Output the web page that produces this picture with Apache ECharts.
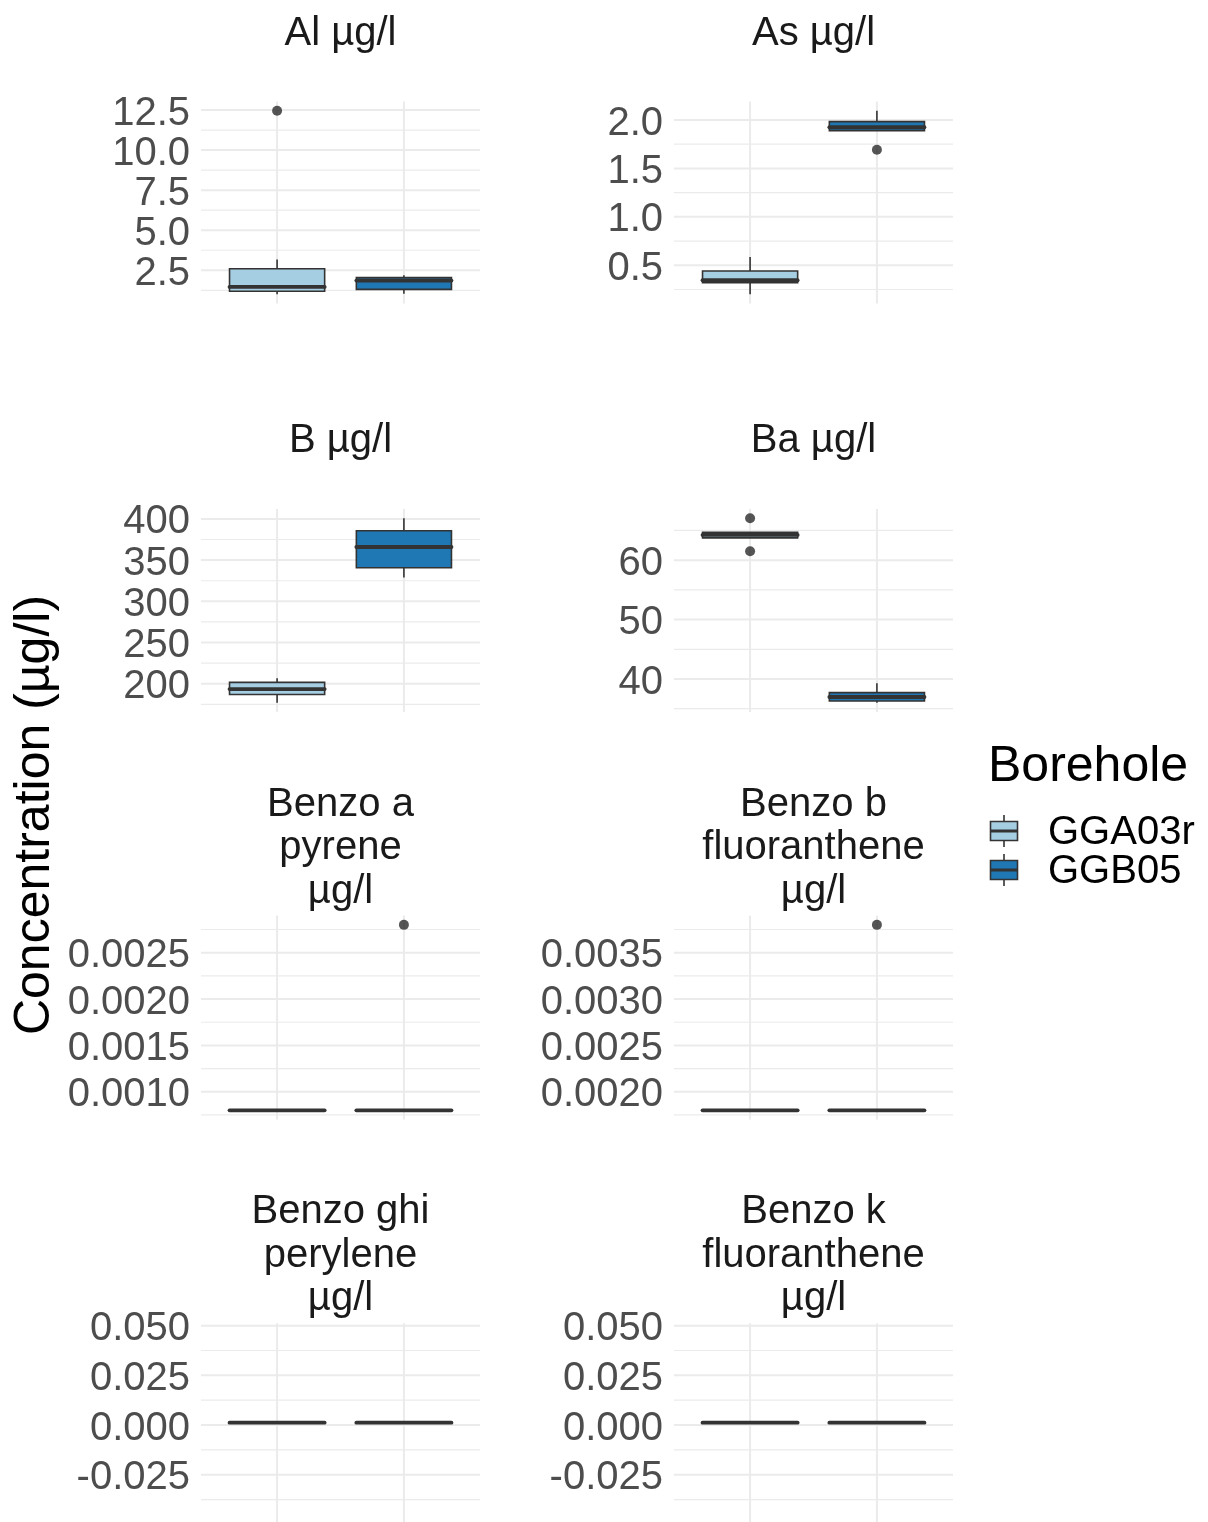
<!DOCTYPE html>
<html><head><meta charset="utf-8">
<script src="https://cdn.jsdelivr.net/npm/echarts@6/dist/echarts.min.js"></script>
<style>html,body{margin:0;padding:0;background:#fff}#c{width:1208px;height:1522px}</style>
</head><body><div id="c"></div>
<script>
// ---------- DATA ----------
const boreholes = ['GGA03r', 'GGB05'];
const boreholeColors = ['#a6cee3', '#1f78b4'];

// box stats per borehole: [lowerWhisker, Q1, median, Q3, upperWhisker]
const alStats   = [[1.0, 1.19, 1.46, 2.6, 3.17], [1.04, 1.31, 1.86, 2.04, 2.19]];
const alOutliers = [[12.46], []];
const alTicks = ['2.5', '5.0', '7.5', '10.0', '12.5'];

const asStats   = [[0.20, 0.32, 0.345, 0.44, 0.585], [1.89, 1.89, 1.925, 1.983, 2.096]];
const asOutliers = [[], [1.692]];
const asTicks = ['0.5', '1.0', '1.5', '2.0'];

const bStats    = [[177, 187.1, 193.6, 201.7, 206.6], [329, 340.8, 365.9, 385.7, 400.8]];
const bOutliers = [[], []];
const bTicks = ['200', '250', '300', '350', '400'];

const baStats   = [[63.75, 63.75, 64.25, 64.7, 64.7], [36.0, 36.3, 36.97, 37.7, 39.28]];
const baOutliers = [[67.06, 61.5], []];
const baTicks = ['40', '50', '60'];

const bapStats  = [[0.0008, 0.0008, 0.0008, 0.0008, 0.0008], [0.0008, 0.0008, 0.0008, 0.0008, 0.0008]];
const bapOutliers = [[], [0.0028]];
const bapTicks = ['0.0010', '0.0015', '0.0020', '0.0025'];

const bbfStats  = [[0.0018, 0.0018, 0.0018, 0.0018, 0.0018], [0.0018, 0.0018, 0.0018, 0.0018, 0.0018]];
const bbfOutliers = [[], [0.0038]];
const bbfTicks = ['0.0020', '0.0025', '0.0030', '0.0035'];

const bghiStats = [[0.0012, 0.0012, 0.0012, 0.0012, 0.0012], [0.0012, 0.0012, 0.0012, 0.0012, 0.0012]];
const bghiOutliers = [[], []];
const bghiTicks = ['-0.025', '0.000', '0.025', '0.050'];

const bkfStats  = [[0.0012, 0.0012, 0.0012, 0.0012, 0.0012], [0.0012, 0.0012, 0.0012, 0.0012, 0.0012]];
const bkfOutliers = [[], []];
const bkfTicks = ['-0.025', '0.000', '0.025', '0.050'];

const panelTitles = ['Al µg/l', 'As µg/l', 'B µg/l', 'Ba µg/l',
  'Benzo a\npyrene\nµg/l', 'Benzo b\nfluoranthene\nµg/l',
  'Benzo ghi\nperylene\nµg/l', 'Benzo k\nfluoranthene\nµg/l'];
const yTitle = 'Concentration (µg/l)';
const legendTitle = 'Borehole';

const panelStats = [alStats, asStats, bStats, baStats, bapStats, bbfStats, bghiStats, bkfStats];
const panelOutliers = [alOutliers, asOutliers, bOutliers, baOutliers, bapOutliers, bbfOutliers, bghiOutliers, bkfOutliers];
const panelTicks = [alTicks, asTicks, bTicks, baTicks, bapTicks, bbfTicks, bghiTicks, bkfTicks];

// ---------- LAYOUT ----------
const colLeft = [201, 674];
const plotW = 279;
const rowTop = [101.5, 509, 915.6, 1323.3];
const rowH = [202, 203, 204, 204];
const GRID_C = '#ebebeb';
const EDGE = '#333333';
const FONT = '"Liberation Sans", Arial, sans-serif';

const grids = [], xAxes = [], yAxes = [], series = [], graphics = [];

panelStats.forEach((stats, i) => {
  const col = i % 2, row = Math.floor(i / 2);
  const tickLabels = panelTicks[i];
  const tickVals = tickLabels.map(parseFloat);
  let lo = Infinity, hi = -Infinity;
  stats.forEach((s, k) => {
    lo = Math.min(lo, s[0]); hi = Math.max(hi, s[4]);
    panelOutliers[i][k].forEach(v => { lo = Math.min(lo, v); hi = Math.max(hi, v); });
  });
  const r = hi - lo;
  let yMin, yMax;
  if (r === 0) { yMin = lo - 0.05; yMax = hi + 0.05; }
  else { yMin = lo - 0.05 * r; yMax = hi + 0.05 * r; }

  const step = tickVals[1] - tickVals[0];
  const minors = [];
  for (let v = tickVals[0] - step / 2; v <= tickVals[tickVals.length - 1] + step / 2 + 1e-12; v += step) {
    if (v >= yMin && v <= yMax) minors.push(v);
  }

  grids.push({ left: colLeft[col], top: rowTop[row], width: plotW, height: rowH[row], containLabel: false });
  xAxes.push({ gridIndex: i, type: 'value', min: 0.4, max: 2.6, show: false });
  yAxes.push({
    gridIndex: i, type: 'value', min: yMin, max: yMax,
    axisLine: { show: false }, axisTick: { show: false, customValues: tickVals },
    splitLine: { show: false },
    axisLabel: {
      customValues: tickVals, color: '#4d4d4d', fontSize: 40, fontFamily: FONT, margin: 11,
      formatter: v => { const k = tickVals.findIndex(t => Math.abs(t - v) < 1e-12); return k >= 0 ? '{t|' + tickLabels[k] + '}' : ''; },
      rich: { t: { color: '#4d4d4d', fontSize: 40, fontFamily: FONT, padding: [7, 0, 0, 0] } }
    }
  });

  // background grid lines
  series.push({
    type: 'custom', xAxisIndex: i, yAxisIndex: i, z: 0, silent: true, clip: false,
    data: [[0]],
    renderItem: (params, api) => {
      const ch = [];
      minors.forEach(v => {
        const a = api.coord([0.4, v]), b = api.coord([2.6, v]);
        ch.push({ type: 'line', shape: { x1: a[0], y1: a[1], x2: b[0], y2: b[1] }, style: { stroke: GRID_C, lineWidth: 1.2 } });
      });
      tickVals.forEach(v => {
        const a = api.coord([0.4, v]), b = api.coord([2.6, v]);
        ch.push({ type: 'line', shape: { x1: a[0], y1: a[1], x2: b[0], y2: b[1] }, style: { stroke: GRID_C, lineWidth: 2 } });
      });
      [1, 2].forEach(x => {
        const a = api.coord([x, yMin]), b = api.coord([x, yMax]);
        ch.push({ type: 'line', shape: { x1: a[0], y1: a[1], x2: b[0], y2: b[1] }, style: { stroke: GRID_C, lineWidth: 2 } });
      });
      return { type: 'group', children: ch };
    }
  });

  // boxes
  series.push({
    type: 'custom', xAxisIndex: i, yAxisIndex: i, z: 2, silent: true, clip: false,
    data: stats.map((s, k) => [k + 1].concat(s)),
    renderItem: (params, api) => {
      const x = api.value(0);
      const lw = api.value(1), q1 = api.value(2), md = api.value(3), q3 = api.value(4), uw = api.value(5);
      const half = 0.375;
      const pL = api.coord([x - half, q3]), pR = api.coord([x + half, q1]);
      const cx = api.coord([x, md])[0];
      const yMd = api.coord([x, md])[1];
      const yLw = api.coord([x, lw])[1], yUw = api.coord([x, uw])[1];
      const fill = boreholeColors[x - 1];
      return { type: 'group', children: [
        { type: 'line', shape: { x1: cx, y1: yUw, x2: cx, y2: pL[1] }, style: { stroke: EDGE, lineWidth: 1.6 } },
        { type: 'line', shape: { x1: cx, y1: pR[1], x2: cx, y2: yLw }, style: { stroke: EDGE, lineWidth: 1.6 } },
        { type: 'rect', shape: { x: pL[0], y: pL[1], width: pR[0] - pL[0], height: pR[1] - pL[1] }, style: { fill: fill, stroke: EDGE, lineWidth: 1.6 } },
        { type: 'line', shape: { x1: pL[0], y1: yMd, x2: pR[0], y2: yMd }, style: { stroke: EDGE, lineWidth: 3.8, lineCap: 'round' } }
      ]};
    }
  });

  // outliers
  const outData = [];
  panelOutliers[i].forEach((arr, k) => arr.forEach(v => outData.push([k + 1, v])));
  series.push({
    type: 'scatter', xAxisIndex: i, yAxisIndex: i, z: 3, silent: true,
    symbol: 'circle', symbolSize: 10, itemStyle: { color: '#2b2b2b' }, data: outData
  });

  graphics.push({
    type: 'text', x: colLeft[col] + plotW / 2, y: rowTop[row] - 67.6, z: 10,
    style: { text: panelTitles[i], fill: '#1a1a1a', font: '40px ' + FONT, align: 'center', verticalAlign: 'middle', lineHeight: 43.5 }
  });
});

// y-axis title
graphics.push({
  type: 'text', x: 35, y: 815, rotation: Math.PI / 2,
  style: { text: yTitle, fill: '#000', font: '50px ' + FONT, align: 'center', verticalAlign: 'middle' }
});
// legend
graphics.push({
  type: 'text', x: 988, y: 767,
  style: { text: legendTitle, fill: '#000', font: '50px ' + FONT, align: 'left', verticalAlign: 'middle' }
});
const keyY = [831, 870];
boreholes.forEach((b, k) => {
  const cy = keyY[k];
  graphics.push({ type: 'line', shape: { x1: 1004, y1: cy - 16, x2: 1004, y2: cy + 16 }, style: { stroke: EDGE, lineWidth: 1.6 } });
  graphics.push({ type: 'rect', shape: { x: 990.5, y: cy - 9.5, width: 27, height: 19 }, style: { fill: boreholeColors[k], stroke: EDGE, lineWidth: 1.6 } });
  graphics.push({ type: 'line', shape: { x1: 990.5, y1: cy, x2: 1017.5, y2: cy }, style: { stroke: EDGE, lineWidth: 3 } });
  graphics.push({ type: 'text', x: 1048, y: cy + 2, style: { text: b, fill: '#000', font: '40px ' + FONT, align: 'left', verticalAlign: 'middle' } });
});

const chart = echarts.init(document.getElementById('c'), null, { renderer: 'canvas' });
chart.setOption({
  backgroundColor: '#ffffff',
  animation: false,
  grid: grids, xAxis: xAxes, yAxis: yAxes, series: series,
  graphic: graphics
});
</script></body></html>
